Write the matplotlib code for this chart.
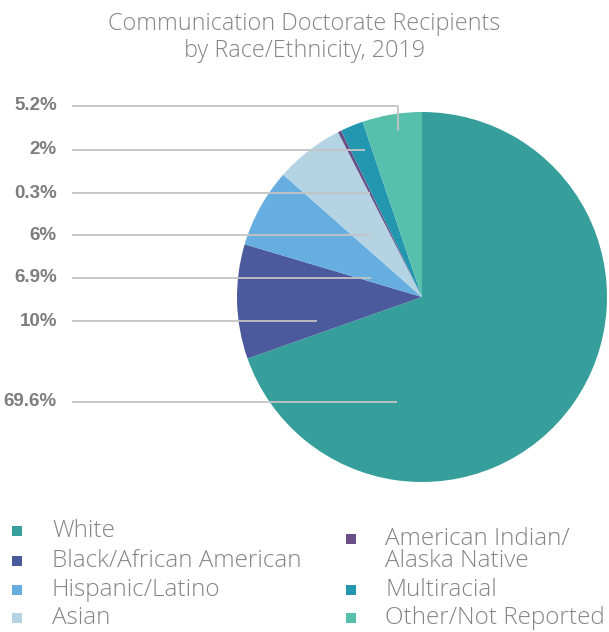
import matplotlib
matplotlib.use("Agg")
import matplotlib.pyplot as plt
from matplotlib.patches import Rectangle

# data
categories = ["White", "Black/African American", "Hispanic/Latino", "Asian",
              "American Indian/\nAlaska Native", "Multiracial", "Other/Not Reported"]
values = [69.6, 10, 6.9, 6, 0.3, 2, 5.2]
pct_labels = ["69.6%", "10%", "6.9%", "6%", "0.3%", "2%", "5.2%"]
colors = ["#369E9B", "#4B5A9C", "#66AEE0", "#B4D4E4", "#6A4F87", "#2397B0", "#57C0AC"]

W, H = 609, 632
fig = plt.figure(figsize=(W / 100, H / 100), dpi=100)
gray = "#858585"
main_font = ["Open Sans", "DejaVu Sans"]
num_font = ["Liberation Sans Narrow", "Liberation Sans", "DejaVu Sans"]

# pie axes: center (422, 297) px, radius 185 px
cx, cy, r = 422, 297, 185
pie_ax = fig.add_axes([(cx - r) / W, 1 - (cy + r) / H, 2 * r / W, 2 * r / H])
pie_ax.pie(values, colors=colors, startangle=90, counterclock=False,
           radius=1, wedgeprops=dict(linewidth=0))
pie_ax.set_xlim(-1, 1)
pie_ax.set_ylim(-1, 1)
pie_ax.set_aspect("auto")
pie_ax.axis("off")

# overlay in pixel coords
ov = fig.add_axes([0, 0, 1, 1])
ov.set_xlim(0, W)
ov.set_ylim(H, 0)
ov.axis("off")

ov.text(W / 2, 24, "Communication Doctorate Recipients", ha="center", va="center",
        fontsize=16.8, color=gray, family=main_font, fontweight="light")
ov.text(W / 2, 51, "by Race/Ethnicity, 2019", ha="center", va="center",
        fontsize=16.8, color=gray, family=main_font, fontweight="light")

# leader labels (label y, line end x)
leader = {"69.6%": (402, 397), "10%": (321, 317), "6.9%": (278, 371), "6%": (235, 370),
          "0.3%": (193, 370), "2%": (150, 365), "5.2%": (106, 398)}
line_col = "#c4c4c4"
for lab in pct_labels:
    ly, ex = leader[lab]
    ov.text(57, ly, lab, ha="right", va="center", fontsize=13.5, fontweight="bold",
            color="#7d7d7d", family=num_font)
    if lab == "5.2%":
        ov.plot([72, ex, ex], [ly, ly, 131], color=line_col, lw=1.3, solid_capstyle="butt")
    else:
        ov.plot([72, ex], [ly, ly], color=line_col, lw=1.3, solid_capstyle="butt")

# legend
leg_size = 17.5
positions = [(17, 52, 531), (17, 52, 561), (17, 52, 590), (17, 52, 618),
             (351, 385, 539), (351, 385, 590), (351, 385, 618)]
for i, (cat, col) in enumerate(zip(categories, colors)):
    mx, tx, y = positions[i]
    ov.add_patch(Rectangle((mx - 5, y - 5), 10, 10, color=col, lw=0))
    lines = cat.split("\n")
    for j, line in enumerate(lines):
        ov.text(tx, y + 22 * j, line, ha="left", va="center", fontsize=leg_size,
                color=gray, family=main_font, fontweight="light")

fig.savefig("out.png", dpi=100)
